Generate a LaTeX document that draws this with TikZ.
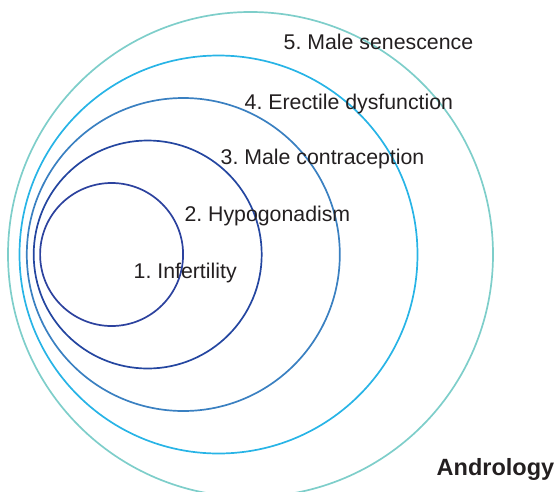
\documentclass[tikz,border=0pt]{standalone}
\usepackage{fontspec}
\setmainfont{Liberation Sans}
\usetikzlibrary{positioning}
\definecolor{ringone}{RGB}{44,66,158}
\definecolor{ringtwo}{RGB}{36,70,160}
\definecolor{ringthree}{RGB}{58,128,193}
\definecolor{ringfour}{RGB}{40,180,230}
\definecolor{ringfive}{RGB}{126,206,202}
\definecolor{txtgray}{RGB}{35,31,32}
\frenchspacing

\begin{document}
\begin{tikzpicture}[
  x=1pt, y=-1pt,
  ring/.style={draw, circle, line width=1.7pt, inner sep=0pt},
  lbl/.style={anchor=base west, inner sep=0pt, text=txtgray, font=\fontsize{21.3}{25}\selectfont}
]
\useasboundingbox (0,0) rectangle (557,491);
% rings, inner to outer
\node[ring, draw=ringone,   minimum size=143pt] (r1) at (111.6,254.5) {};
\node[ring, draw=ringtwo,   minimum size=228pt] (r2) at (147.7,254.5) {};
\node[ring, draw=ringthree, minimum size=313pt] (r3) at (183.3,254.5) {};
\node[ring, draw=ringfour,  minimum size=398pt] (r4) at (218.5,254.5) {};
\node[ring, draw=ringfive,  minimum size=485pt] (r5) at (250.5,254.5) {};
% labels
\node[lbl] (l5) at (283.5,49) {5. Male senescence};
\node[lbl] (l4) at (244.5,109) {4. Erectile dysfunction};
\node[lbl] (l3) at (220.5,164.5) {3. Male contraception};
\node[lbl] (l2) at (184.3,221.5) {2. Hypogonadism};
\node[lbl] (l1) at (133.5,278.5) {1. Infertility};
\node[lbl, font=\fontsize{23.5}{27}\selectfont\bfseries] (ttl) at (436.5,475) {Andrology};
\end{tikzpicture}
\end{document}
